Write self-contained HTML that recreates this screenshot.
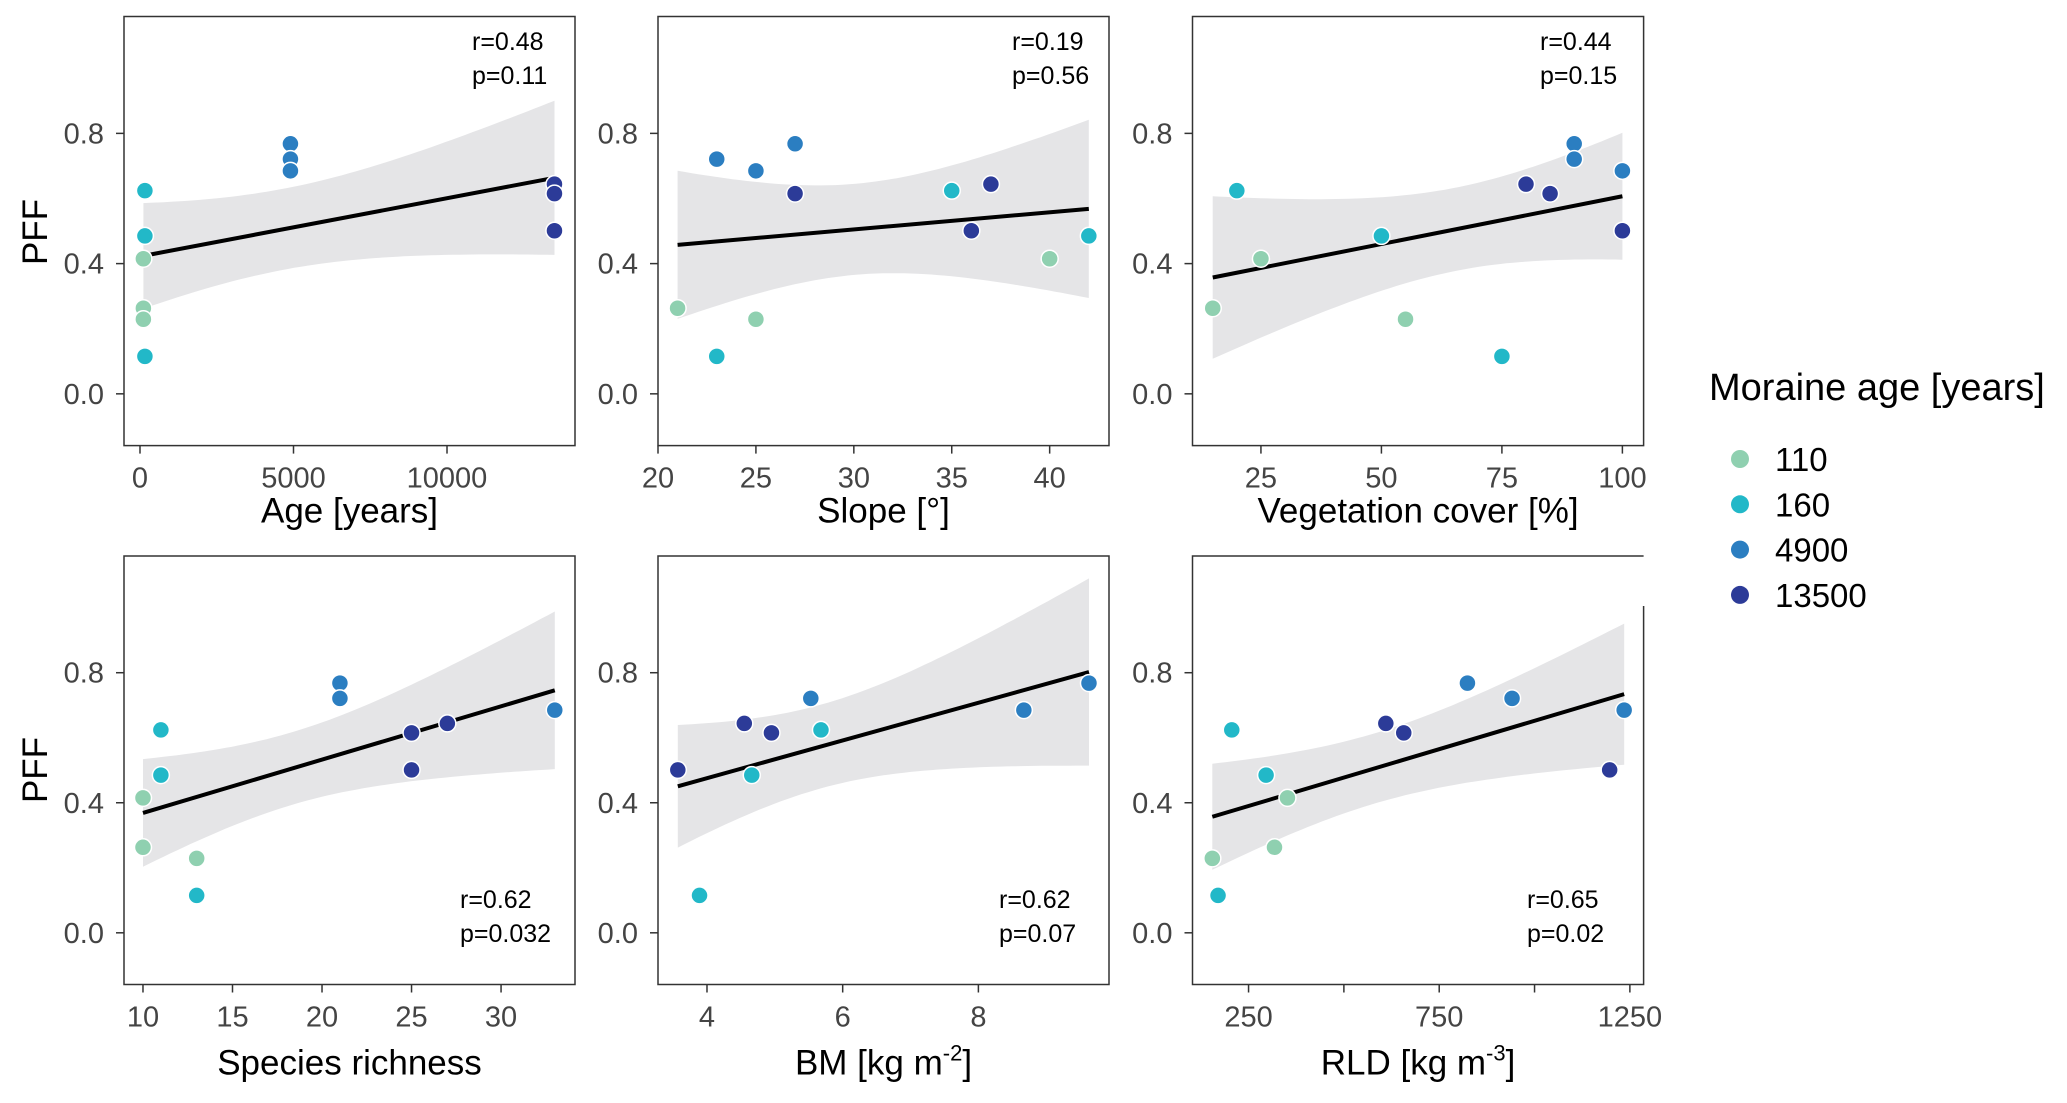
<!DOCTYPE html>
<html><head><meta charset="utf-8">
<style>
html,body{margin:0;padding:0;background:#fff;}
svg{display:block;font-family:"Liberation Sans",sans-serif;}
</style></head>
<body>
<svg id="chart" width="2067" height="1103" viewBox="0 0 2067 1103" xmlns="http://www.w3.org/2000/svg">
<g id="legend">
<text x="1709" y="400" font-size="38" fill="#000">Moraine age [years]</text>
</g>
</svg>
<script>
// ---- data ----
const groupLabels = ["110","160","4900","13500"];
const groupColors = ["#8fd0b0","#22b8c8","#2b7ec1","#2c3b98"];
const pffGroup = [0,0,0,1,1,1,2,2,2,3,3,3];
const pffValues = [0.415,0.263,0.229,0.624,0.485,0.115,0.768,0.721,0.685,0.644,0.615,0.501];
const ageValues = [110,110,110,160,160,160,4900,4900,4900,13500,13500,13500];
const slopeValues = [40,21,25,35,42,23,27,23,25,37,27,36];
const vegValues = [25,15,55,20,50,75,90,90,100,80,85,100];
const richnessValues = [10,10,13,11,11,13,21,21,33,27,25,25];
const bmValues = [null,null,null,5.68,4.66,3.89,9.63,5.53,8.67,4.55,4.95,3.57];
const rldValues = [352,318,155,206,296,170,824,941,1235,610,657,1197];
const yTicks = [0.0,0.4,0.8];
const yTickLabels = ["0.0","0.4","0.8"];
const ageTicks = [0,5000,10000];
const slopeTicks = [20,25,30,35,40];
const vegTicks = [25,50,75,100];
const richTicks = [10,15,20,25,30];
const bmTicks = [4,6,8];
const rldTicks = [250,500,750,1000,1250];
const rldTickLabels = ["250","","750","","1250"];
const stats = [["r=0.48","p=0.11"],["r=0.19","p=0.56"],["r=0.44","p=0.15"],["r=0.62","p=0.032"],["r=0.62","p=0.07"],["r=0.65","p=0.02"]];

const NS="http://www.w3.org/2000/svg";
const svg=document.getElementById('chart');
function mk(tag,attrs,parent){const e=document.createElementNS(NS,tag);for(const k in attrs)e.setAttribute(k,attrs[k]);(parent||svg).appendChild(e);return e;}

const panels=[
 {name:'age',x:ageValues,ticks:ageTicks,labels:ageTicks.map(String),dom:[-521,14169],L:124,R:575,T:16.5,B:445.6,title:'Age [years]',pff:true,st:0,sx:472,top:true},
 {name:'slope',x:slopeValues,ticks:slopeTicks,labels:slopeTicks.map(String),dom:[20,43.03],L:658,R:1109,T:16.5,B:445.6,title:'Slope [°]',st:1,sx:1012,top:true},
 {name:'vegetation',x:vegValues,ticks:vegTicks,labels:vegTicks.map(String),dom:[10.8,104.4],L:1192.5,R:1643.6,T:16.5,B:445.6,title:'Vegetation cover [%]',st:2,sx:1540,top:true},
 {name:'richness',x:richnessValues,ticks:richTicks,labels:richTicks.map(String),dom:[8.94,34.13],L:124,R:575,T:556,B:984.5,title:'Species richness',pff:true,st:3,sx:460,top:false},
 {name:'biomass',x:bmValues,ticks:bmTicks,labels:bmTicks.map(String),dom:[3.278,9.925],L:658,R:1109,T:556,B:984.5,title:'BM [kg m',sup:'-2',st:4,sx:999,top:false},
 {name:'rld',x:rldValues,ticks:rldTicks,labels:rldTickLabels,dom:[103,1286],L:1192.5,R:1643.6,T:556,B:984.5,title:'RLD [kg m',sup:'-3',st:5,sx:1527,top:false,gap:true}
];
const yDom=[-0.159,1.159];

panels.forEach(p=>{
  const g=mk('g',{});
  
  
  const xs=v=>p.L+(v-p.dom[0])/(p.dom[1]-p.dom[0])*(p.R-p.L);
  const ys=v=>p.B-(v-yDom[0])/(yDom[1]-yDom[0])*(p.B-p.T);
  const pts=[];p.x.forEach((xv,i)=>{if(xv!==null)pts.push([xv,pffValues[i],i]);});
  const n=pts.length;const mx=pts.reduce((a,b)=>a+b[0],0)/n,my=pts.reduce((a,b)=>a+b[1],0)/n;
  let sxx=0,sxy=0;pts.forEach(q=>{sxx+=(q[0]-mx)**2;sxy+=(q[0]-mx)*(q[1]-my);});
  const b=sxy/sxx,a=my-b*mx;let sse=0;pts.forEach(q=>{sse+=(q[1]-a-b*q[0])**2;});
  const s=Math.sqrt(sse/(n-2));const tq={7:2.365,10:2.228}[n-2]||2.2;
  const xmin=Math.min(...pts.map(q=>q[0])),xmax=Math.max(...pts.map(q=>q[0]));
  const up=[],lo=[];
  for(let k=0;k<=60;k++){const xv=xmin+(xmax-xmin)*k/60;const yh=a+b*xv;const se=s*Math.sqrt(1/n+(xv-mx)**2/sxx);
    up.push(xs(xv).toFixed(1)+','+ys(yh+tq*se).toFixed(1));lo.unshift(xs(xv).toFixed(1)+','+ys(yh-tq*se).toFixed(1));}
  const band=mk('polygon',{points:up.concat(lo).join(' '),fill:'#e5e5e7'},g);
  
  
  const line=mk('line',{x1:xs(xmin),y1:ys(a+b*xmin),x2:xs(xmax),y2:ys(a+b*xmax),stroke:'#000','stroke-width':4},g);
  
  
  pts.forEach(q=>{const c=mk('circle',{cx:xs(q[0]),cy:ys(q[1]),r:8.5,fill:groupColors[pffGroup[q[2]]],stroke:'#fff','stroke-width':1.5},g);
    
    });
  let fr;
  if(p.gap){
    fr=mk('path',{d:`M${p.R},${p.T+50} L${p.R},${p.B} L${p.L},${p.B} L${p.L},${p.T} L${p.R},${p.T}`,fill:'none',stroke:'#333','stroke-width':1.5},g);
  } else {
    fr=mk('rect',{x:p.L,y:p.T,width:p.R-p.L,height:p.B-p.T,fill:'none',stroke:'#333','stroke-width':1.5},g);
  }
  
  
  yTicks.forEach((t,i)=>{mk('line',{x1:p.L-8,x2:p.L,y1:ys(t),y2:ys(t),stroke:'#333','stroke-width':1.5},g);
    const tx=mk('text',{x:p.L-20,y:ys(t)+10,'font-size':29,fill:'#444','text-anchor':'end'},g);tx.textContent=yTickLabels[i];
    
    });
  p.ticks.forEach((t,i)=>{mk('line',{x1:xs(t),x2:xs(t),y1:p.B,y2:p.B+8,stroke:'#333','stroke-width':1.5},g);
    const tx=mk('text',{x:xs(t),y:p.B+42,'font-size':29,fill:'#444','text-anchor':'middle'},g);tx.textContent=p.labels[i];
    
    });
  const tt=mk('text',{x:(p.L+p.R)/2,y:p.top?p.B+77:p.B+90,'font-size':35,fill:'#000','text-anchor':'middle'},g);
  tt.textContent=p.title;
  if(p.sup){const sp=mk('tspan',{'font-size':22,dy:-14},tt);sp.textContent=p.sup;const sp2=mk('tspan',{dy:14},tt);sp2.textContent=']';}
  
  
  if(p.pff){const cy=p.top?232:770;const yt=mk('text',{x:0,y:0,transform:'translate(47,'+cy+') rotate(-90)','font-size':35,fill:'#000','text-anchor':'middle'},g);yt.textContent='PFF';
    
    }
  const ry=p.top?50:908;
  stats[p.st].forEach((s2,j)=>{const st=mk('text',{x:p.sx,y:ry+j*34,'font-size':25,fill:'#000'},g);st.textContent=s2;
    
    });
});
const lg=document.getElementById('legend');
groupLabels.forEach((lab,i)=>{const y=459+i*45.3;
  const c=mk('circle',{cx:1740,cy:y,r:9,fill:groupColors[i]},lg);
  
  
  const t=mk('text',{x:1775,y:y+12,'font-size':33,fill:'#000'},lg);t.textContent=lab;
  
  });
</script>
</body></html>
